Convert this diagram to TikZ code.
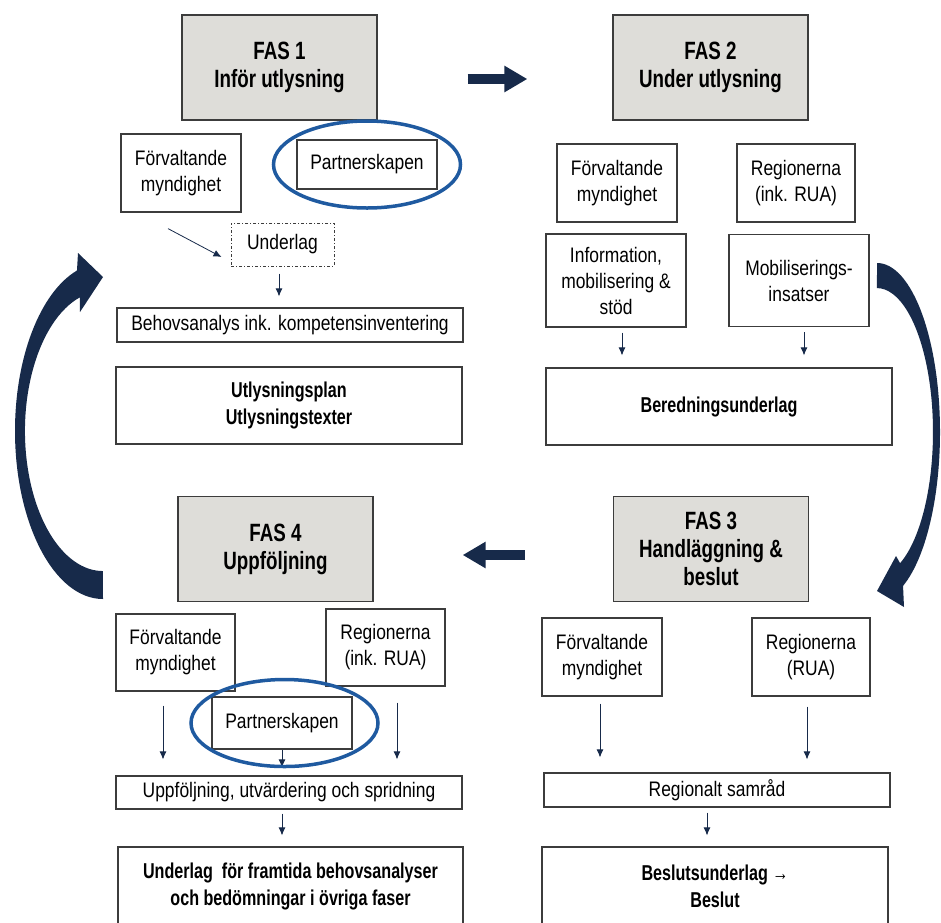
\documentclass[tikz,border=0pt]{standalone}
\usepackage{fontspec}
\setmainfont{Liberation Sans}[FakeStretch=0.83]
\newfontfamily\headfont{Liberation Sans}[FakeStretch=0.75]
\usetikzlibrary{arrows.meta,calc}
\definecolor{fasgray}{RGB}{222,221,217}
\definecolor{navy}{RGB}{23,42,74}
\definecolor{ringblue}{RGB}{31,90,160}
\definecolor{edge}{RGB}{60,60,60}
\tikzstyle{fas} = [draw=edge, fill=fasgray, line width=1.3pt,
    minimum width=195pt, minimum height=105pt, align=center,
    font=\headfont\bfseries\fontsize{25}{28}\selectfont]
\tikzstyle{block} = [draw=edge, fill=white, line width=1.2pt, align=center,
    inner sep=1pt, font=\fontsize{21}{26}\selectfont]
\tikzstyle{actor} = [block, minimum width=120pt, minimum height=78pt]
\tikzstyle{partner} = [block, minimum width=140pt, minimum height=50pt]
\tikzstyle{wide} = [block, minimum width=346pt, minimum height=34pt]
\tikzstyle{result} = [block, minimum width=346pt, minimum height=77pt,
    font=\headfont\bfseries\fontsize{21.5}{27}\selectfont]
\tikzstyle{dashblock} = [block, line width=1pt, minimum width=103pt, minimum height=43pt,
    dash pattern=on 3pt off 2pt on 1pt off 2pt]
\tikzstyle{ring} = [draw=ringblue, line width=3.5pt]
\tikzstyle{flow} = [->, draw=navy, line width=0.8pt]
\tikzstyle{bigflow} = [-{Triangle[length=23pt,width=25pt]}, draw=navy, fill=navy, line width=10pt]

\begin{document}
\begin{tikzpicture}[x=1pt,y=-1pt,>={Latex[length=8pt,width=7pt]}]
    \useasboundingbox (0,0) rectangle (941,922);
    \clip (0,0) rectangle (941,922);
    % phase headers
    \node [fas] (fas1) at (279.5,67.5) {FAS 1\\Inför utlysning};
    \node [fas, right of=fas1, node distance=431pt] (fas2) {FAS 2\\Under utlysning};
    \node [fas] (fas3) at (711,549) {FAS 3\\Handläggning \&\\beslut};
    \node [fas, left of=fas3, node distance=435.5pt] (fas4) {FAS 4\\Uppföljning};
    % fas 1
    \node [actor] (fmA) at (181,173) {Förvaltande\\myndighet};
    \node [partner, minimum height=49pt] (partA) at (367,164.5) {Partnerskapen};
    \node [dashblock] (underlag) at (282.5,244.5) {Underlag};
    \node [wide] (behov) at (290,325) {Behovsanalys ink. kompetensinventering};
    \node [result] (utlys) at (289,405.5) {Utlysningsplan\\Utlysningstexter};
    % fas 2
    \node [actor] (fmB) at (617,183) {Förvaltande\\myndighet};
    \node [actor, minimum width=118pt, right of=fmB, node distance=179pt] (regB) {Regionerna\\(ink. RUA)};
    \node [actor, minimum width=140pt, minimum height=93pt] (infoB) at (616,280.5) {Information,\\mobilisering \&\\stöd};
    \node [actor, minimum width=140pt, minimum height=92pt, right of=infoB, node distance=183pt] (mobB) {Mobiliserings-\\insatser};
    \node [result] (beredB) at (719,406.5) {Beredningsunderlag};
    % fas 3
    \node [actor] (fmC) at (602,657) {Förvaltande\\myndighet};
    \node [actor, minimum width=118pt, right of=fmC, node distance=209pt] (regC) {Regionerna\\(RUA)};
    \node [wide] (samC) at (717,790) {Regionalt samråd};
    \node [result, minimum height=78pt] (beslC) at (715,886) {Beslutsunderlag →\\Beslut};
    % fas 4
    \node [actor, minimum width=119pt, minimum height=77pt] (fmD) at (175.5,652.5) {Förvaltande\\myndighet};
    \node [actor, minimum width=119pt, minimum height=77pt] (regD) at (385.5,647.5) {Regionerna\\(ink. RUA)};
    \node [partner, minimum height=52pt] (partD) at (282,723) {Partnerskapen};
    \node [wide, minimum height=33pt] (uppD) at (289,792.5) {Uppföljning, utvärdering och spridning};
    \node [result, minimum width=345pt, minimum height=78pt] (underD) at (290.5,886) {Underlag~ för framtida behovsanalyser\\och bedömningar i övriga faser};
    % thin arrows
    \draw [flow] ($(fmA.south)+(-13,16)$) -- ($(underlag.west)+(-9,12.5)$);
    \draw [flow] ($(underlag.south)+(-3.5,7)$) -- ($(underlag.south |- behov.north)+(-3.5,-11)$);
    \draw [flow] ($(infoB.south)+(6,5)$) -- ($(infoB.south |- beredB.north)+(6,-12)$);
    \draw [flow] ($(mobB.south)+(5,5)$) -- ($(mobB.south |- beredB.north)+(5,-12)$);
    \draw [flow] ($(fmC.south)+(-2,7)$) -- ($(fmC.south |- samC.north)+(-2,-15)$);
    \draw [flow] ($(regC.south)+(-4,10)$) -- ($(regC.south |- samC.north)+(-4,-13)$);
    \draw [flow] ($(samC.south)+(-10,5)$) -- ($(samC.south |- beslC.north)+(-10,-11)$);
    \draw [flow] ($(fmD.south)+(-12.5,14)$) -- ($(fmD.south |- uppD.north)+(-12.5,-16)$);
    \draw [flow] ($(regD.south)+(11.5,16)$) -- ($(regD.south |- uppD.north)+(11.5,-16)$);
    \draw [flow] (partD.south) -- ($(partD.south |- uppD.north)+(0,-8)$);
    \draw [flow] ($(uppD.south)+(-7,4)$) -- ($(uppD.south |- underD.north)+(-7,-11)$);
    % partnership rings
    \draw [ring] (partA) ellipse [x radius=93.5, y radius=43.5];
    \draw [ring] ($(partD)+(2.5,0)$) ellipse [x radius=93.5, y radius=43.5];
    % phase arrows
    \draw [bigflow] ($(fas1.east)+(90,11.5)$) -- ($(fas2.west)+(-85,11.5)$);
    \draw [bigflow] ($(fas3.west)+(-88,6)$) -- ($(fas4.east)+(89,6)$);
    \fill [navy] (103,599) arc [start angle=90, end angle=252.8, x radius=88, y radius=168]
        -- (78,253) -- (103,277) -- (80,312) -- (79.9,297.3)
        arc [start angle=252.8, end angle=90, x radius=78, y radius=140] -- cycle;
    \fill [navy] (877,263) arc [start angle=270, end angle=425.6, x radius=63, y radius=169]
        -- (904,607) -- (877,591) -- (896,556) -- (900.1,563.2)
        arc [start angle=425.6, end angle=270, x radius=56, y radius=144] -- cycle;
\end{tikzpicture}
\end{document}
